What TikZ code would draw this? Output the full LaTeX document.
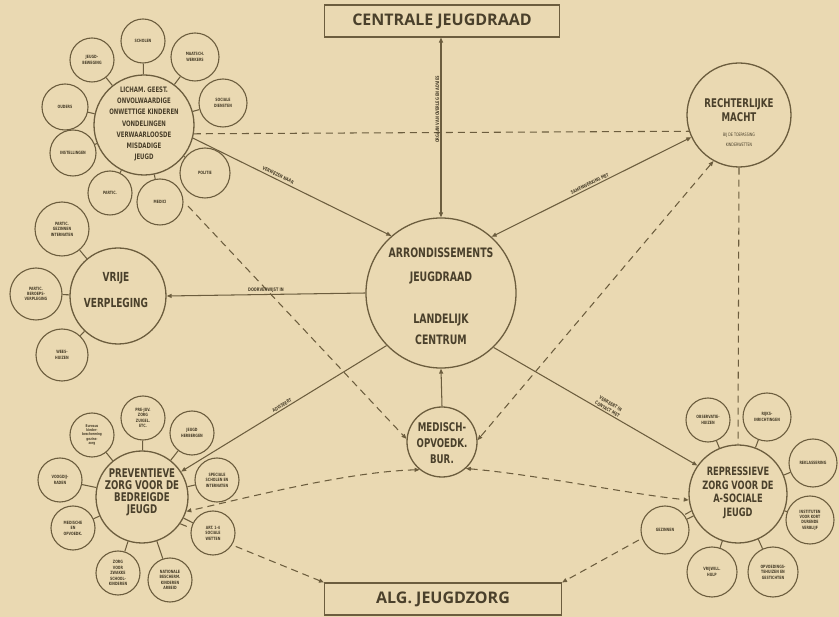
\documentclass[tikz,border=0pt]{standalone}
\usepackage{fontspec}
\setmainfont{DejaVu Sans Condensed}
\newfontfamily\cnd{DejaVu Sans Condensed}[FakeStretch=0.8]
\newfontfamily\titlefont{Open Sans}
\usetikzlibrary{arrows.meta,calc}
\definecolor{paper}{RGB}{234,217,178}
\definecolor{ink}{RGB}{108,93,62}
\definecolor{txt}{RGB}{74,64,43}
\pgfdeclarelayer{paperlayer}
\pgfdeclarelayer{linelayer}
\pgfsetlayers{paperlayer,linelayer,main}
\tikzset{
  bigc/.style={circle, draw=ink, line width=1.3pt, fill=paper, inner sep=0pt},
  sat/.style={circle, draw=ink, line width=1.1pt, fill=paper, inner sep=0pt, text=txt,
    align=center, font=\cnd\bfseries\fontsize{4.4}{5.4}\selectfont},
  ctext/.style={text=txt, inner sep=0pt, align=center},
  box/.style={draw=ink, line width=1.1pt, fill=paper, text=txt, inner sep=0pt,
    font=\titlefont\bfseries\fontsize{16}{16}\selectfont},
  con/.style={draw=ink, line width=1.05pt},
  dsh/.style={draw=ink, line width=1.05pt, dash pattern=on 7pt off 5pt},
  tip/.style={-{Triangle[length=5pt,width=4pt]}},
  tips/.style={{Triangle[length=5pt,width=4pt]}-{Triangle[length=5pt,width=4pt]}},
  lab/.style={text=txt, inner sep=1.5pt, font=\cnd\bfseries\fontsize{4.8}{6.5}\selectfont, align=center},
}
\begin{document}
\begin{tikzpicture}[x=1pt,y=-1pt]
\begin{pgfonlayer}{paperlayer}
\fill[paper] (0,0) rectangle (839,617);
\end{pgfonlayer}
\useasboundingbox (0,0) rectangle (839,617);

% title boxes
\node[box, minimum width=235pt, minimum height=32pt] (cjr) at (442,21) {CENTRALE JEUGDRAAD};
\node[box, minimum width=237pt, minimum height=32pt] (alg) at (443,599) {ALG. JEUGDZORG};

% central circles
\node[bigc, minimum size=150pt] (arr) at (441,293) {};
\node[ctext, font=\cnd\bfseries\fontsize{13}{13}\selectfont] (t1) at (441,253) {ARRONDISSEMENTS};
\node[ctext, font=\cnd\bfseries\fontsize{13}{13}\selectfont] (t2) at (441,278) {JEUGDRAAD};
\node[ctext, font=\cnd\bfseries\fontsize{13}{13}\selectfont] (t3) at (441,320) {LANDELIJK};
\node[ctext, font=\cnd\bfseries\fontsize{13}{13}\selectfont] (t4) at (441,340) {CENTRUM};

\node[bigc, minimum size=70pt] (med) at (442,442) {};
\node[ctext, font=\cnd\bfseries\fontsize{12}{16}\selectfont] (medt) at (442,443) {MEDISCH-\\OPVOEDK.\\BUR.};

\node[bigc, minimum size=104pt] (recht) at (739,115) {};
\node[ctext, font=\cnd\bfseries\fontsize{12}{14}\selectfont] (rt1) at (739,110) {RECHTERLIJKE\\MACHT};
\node[ctext, font=\cnd\fontsize{4.6}{10}\selectfont] (rt2) at (739,140) {BIJ DE TOEPASSING\\KINDERWETTEN};

% top-left cluster
\node[bigc, minimum size=100pt] (lich) at (144,125) {};
\node[ctext, font=\cnd\bfseries\fontsize{7.5}{11.3}\selectfont] (licht) at (144,124)
  {LICHAM. GEEST.\\ONVOLWAARDIGE\\ONWETTIGE KINDEREN\\VONDELINGEN\\VERWAARLOOSDE\\MISDADIGE\\JEUGD};
\node[sat, minimum size=44pt] (l1) at (143,41) {SCHOLEN};
\node[sat, minimum size=44pt] (l2) at (92,60) {JEUGD-\\BEWEGING};
\node[sat, minimum size=48pt] (l3) at (195,57) {MAATSCH.\\WERKERS};
\node[sat, minimum size=48pt] (l4) at (223,103) {SOCIALE\\DIENSTEN};
\node[sat, minimum size=50pt] (l5) at (205,173) {POLITIE};
\node[sat, minimum size=46pt] (l6) at (160,202) {MEDICI};
\node[sat, minimum size=44pt] (l7) at (110,193) {PARTIC.};
\node[sat, minimum size=46pt] (l8) at (73,153) {INSTELLINGEN};
\node[sat, minimum size=46pt] (l9) at (65,107) {OUDERS};

% vrije verpleging
\node[bigc, minimum size=96pt] (vrije) at (118,296) {};
\node[ctext, font=\cnd\bfseries\fontsize{12.5}{26}\selectfont] (vrt) at (116,290) {VRIJE\\VERPLEGING};
\node[sat, minimum size=54pt] (v1) at (62,229) {PARTIC.\\GEZINNEN\\INTERNATEN};
\node[sat, minimum size=52pt] (v2) at (36,294) {PARTIC.\\BEROEPS-\\VERPLEGING};
\node[sat, minimum size=52pt] (v3) at (62,355) {WEES-\\HUIZEN};

% preventieve zorg
\node[bigc, minimum size=92pt] (prev) at (142,497) {};
\node[ctext, font=\cnd\bfseries\fontsize{12}{12}\selectfont] (prt) at (142,492) {PREVENTIEVE\\ZORG VOOR DE\\BEDREIGDE\\JEUGD};
\node[sat, minimum size=44pt] (p1) at (143,418) {PRE-JUV.\\ZORG\\ZUIGEL.\\ETC.};
\node[sat, minimum size=44pt] (p2) at (192,433) {JEUGD\\HERBERGEN};
\node[sat, minimum size=44pt] (p3) at (217,480) {SPECIALE\\SCHOLEN EN\\INTERNATEN};
\node[sat, minimum size=44pt] (p4) at (213,533) {ART. 1-4\\SOCIALE\\WETTEN};
\node[sat, minimum size=44pt] (p5) at (170,580) {NATIONALE\\BESCHERM.\\KINDEREN\\ARBEID};
\node[sat, minimum size=44pt] (p6) at (118,573) {ZORG\\VOOR\\ZWAKKE\\SCHOOL-\\KINDEREN};
\node[sat, minimum size=44pt] (p7) at (73,528) {MEDISCHE\\EN\\OPVOEDK.};
\node[sat, minimum size=44pt] (p8) at (60,480) {VOOGDIJ-\\RADEN};
\node[sat, minimum size=44pt, font=\cnd\bfseries\fontsize{3.8}{4.4}\selectfont] (p9) at (92,435)
  {Bureaus\\kinder-\\bescherming\\gezins-\\zorg};

% repressieve zorg
\node[bigc, minimum size=98pt] (rep) at (738,494) {};
\node[ctext, font=\cnd\bfseries\fontsize{11.5}{13.5}\selectfont] (rpt) at (738,493) {REPRESSIEVE\\ZORG VOOR DE\\A-SOCIALE\\JEUGD};
\node[sat, minimum size=44pt] (r1) at (708,420) {OBSERVATIE-\\HUIZEN};
\node[sat, minimum size=48pt] (r2) at (767,417) {RIJKS-\\INRICHTINGEN};
\node[sat, minimum size=48pt] (r3) at (813,463) {REKLASSERING};
\node[sat, minimum size=48pt] (r4) at (810,520) {INSTITUTEN\\VOOR KORT\\DURENDE\\VERBLIJF};
\node[sat, minimum size=50pt] (r5) at (773,572) {OPVOEDINGS-\\TEHUIZEN EN\\GESTICHTEN};
\node[sat, minimum size=50pt] (r6) at (712,572) {VRIJWILL.\\HULP};
\node[sat, minimum size=48pt] (r7) at (665,530) {GEZINNEN};

\coordinate (lichstart) at (188,206);

\begin{pgfonlayer}{linelayer}
  % satellite ticks
  \foreach \s in {l1,l2,l3,l4,l5,l6,l7,l8,l9} \draw[con] (lich) -- (\s);
  \foreach \s in {v1,v2,v3} \draw[con] (vrije) -- (\s);
  \foreach \s in {p1,p2,p3,p4,p5,p6,p7,p8,p9} \draw[con] (prev) -- (\s);
  \foreach \s in {r1,r2,r3,r4,r5,r6,r7} \draw[con] (rep) -- (\s);
  % solid connectors
  \draw[con, tips] (arr.north) -- (arr.north |- cjr.south);
  \draw[con, tip] (lich.-15) -- (arr.131);
  \draw[con, tips] (arr.48) -- (recht.205);
  \draw[con, tip] (arr.west) -- (vrije.east);
  \draw[con, tip] (arr.224) -- (prev.33);
  \draw[con, tip] (arr.-46) -- (rep.145);
  \draw[con, tip] (med.north) -- (arr.south);
  % dashed connectors
  \draw[dsh] (lich.-10) -- (recht.198);
  \draw[dsh, tip] (lichstart) -- (med.175);
  \draw[dsh, tips] (recht.241) -- (med.3);
  \draw[dsh, tips] (med.231) .. controls +(-70,2) and +(70,-16) .. (prev.-18);
  \draw[dsh, tips] (med.-48) .. controls +(70,6) and +(-60,-6) .. (rep.187);
  \draw[dsh, tip] (prev.-35) -- (alg.north west);
  \draw[dsh, tip] (rep.200) -- (alg.north east);
  \draw[dsh] (recht.south) -- (rep.north);
\end{pgfonlayer}

% connector labels
\path (arr.north) -- node[lab, sloped, above, pos=0.6] (lv) {ORGAAN VAN OVERLEG EN ADVIES} (arr.north |- cjr.south);
\path (lich.-15) -- node[lab, sloped, above, pos=0.42] (lw) {VERWIJZEN NAAR} (arr.131);
\path (arr.48) -- node[lab, sloped, above, pos=0.5] (ls) {SAMENWERKING MET} (recht.205);
\path (vrije.east) -- node[lab, above, pos=0.5] (ld) {DOORVERWIJST IN} (arr.west);
\path (prev.33) -- node[lab, sloped, above, pos=0.5] (la) {ADVISEERT} (arr.224);
\path (arr.-46) -- node[lab, sloped, above, pos=0.55] (lc) {VERKEERT IN\\CONTACT MET} (rep.145);
\end{tikzpicture}
\end{document}
